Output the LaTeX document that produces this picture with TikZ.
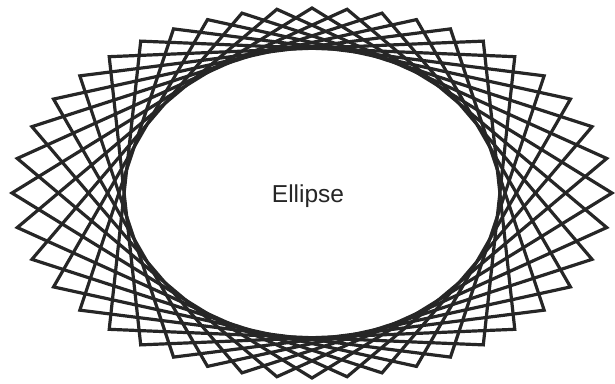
\documentclass[tikz,border=0pt]{standalone}
\usepackage{fontspec}
\setmainfont{Liberation Sans}

\begin{document}
\begin{tikzpicture}[x=1pt, y=1pt, line width=3.2pt, line join=miter]
    % Frame
    \useasboundingbox (-312, -190) rectangle (303, 193);

    % Chords: 44 pins on the outer ellipse, each joined to the pin 11 further on
    \foreach \a/\b in {0/90, 10.76/83.28, 21.01/76.50, 30.51/69.61, 39.29/62.51, 47.47/55.18,
                       55.18/47.47, 62.51/39.29, 69.61/30.51, 76.50/21.01, 83.28/10.76} {
        \draw[black!85] (\a:300 and 185) -- ({180-\b}:300 and 185)
            -- ({180+\a}:300 and 185) -- ({360-\b}:300 and 185) -- cycle;
    }

    % Label
    \node[font=\fontsize{24.5}{29}\selectfont, text=black!85, anchor=base] (label) at (-4, -9) {Ellipse};
\end{tikzpicture}
\end{document}
